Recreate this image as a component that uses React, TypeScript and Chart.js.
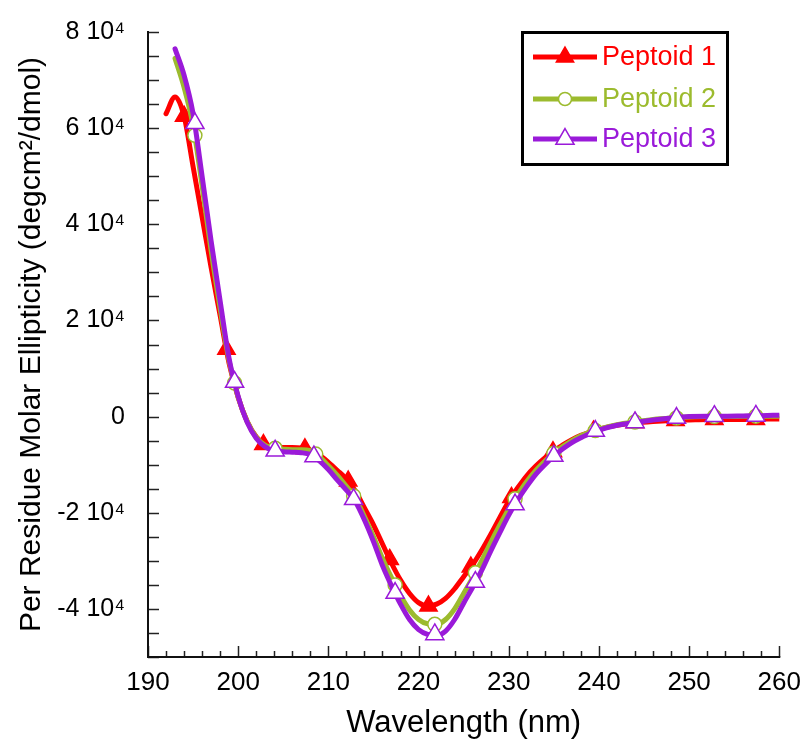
import React, { useEffect, useRef } from 'react';
import { Chart, registerables } from 'chart.js';

Chart.register(...registerables);

const FONT = '"Liberation Sans", Arial, Helvetica, sans-serif';

const RED = '#FF0000';
const GREEN = '#9CBB2E';
const PURPLE = '#9A1AD9';

const seriesNames = ['Peptoid 1', 'Peptoid 2', 'Peptoid 3'];

const wavelengths = [
  192, 193, 194, 195, 196, 197, 198, 199, 200, 201, 202, 203, 204, 205, 206, 207, 208, 209,
  210, 211, 212, 213, 214, 215, 216, 217, 218, 219, 220, 221, 222, 223, 224, 225, 226, 227,
  228, 229, 230, 231, 232, 233, 234, 235, 236, 237, 238, 239, 240, 242, 244, 246, 248, 250,
  252, 254, 256, 258, 260,
];

const peptoid1 = [
  63000, 66500, 62500, 52000, 41500, 31000, 21000, 11000, 4000, -1000, -4200, -5900, -6300, -6400, -6400, -6500, -7000, -8000,
  -9500, -11200, -13000, -15500, -19000, -22500, -26500, -30500, -34000, -36800, -38700, -39400, -39000, -37800, -35800, -33300, -30800, -27800,
  -24500, -21000, -17600, -14800, -12300, -10300, -8600, -7200, -5900, -4800, -3900, -3200, -2600, -1800, -1300, -1000, -800, -700,
  -600, -600, -600, -500, -500,
];

const peptoid2 = [
  null, 74500, 68500, 60500, 48000, 34500, 22500, 11500, 4000, -1000, -4300, -6000, -6600, -6800, -6900, -6900, -7100, -8400,
  -10200, -12200, -14500, -17000, -20800, -25000, -29500, -33500, -37200, -40200, -42200, -43100, -43200, -42200, -40000, -36800, -33500, -30000,
  -26200, -22600, -19200, -16200, -13500, -11200, -9300, -7600, -6200, -5000, -4000, -3200, -2600, -1700, -1100, -600, -300, -100,
  0, 0, 50, 100, 100,
];

const peptoid3 = [
  null, 76500, 71000, 63000, 50000, 36500, 24000, 12000, 4200, -1200, -4500, -6300, -7100, -7300, -7400, -7500, -7900, -9200,
  -11000, -13200, -15300, -17700, -21500, -26000, -31000, -35200, -39000, -42200, -44300, -45300, -45500, -44600, -42200, -38800, -35500, -32000,
  -28000, -24200, -20500, -17300, -14500, -12000, -10000, -8200, -6700, -5400, -4400, -3500, -2800, -1800, -1200, -700, -300, 0,
  100, 100, 150, 200, 300,
];

const markerWl1 = [194.0, 198.7, 202.8, 207.4, 212.2, 216.8, 221.1, 225.8, 230.3, 234.9, 239.4, 244.0, 248.5, 252.8, 257.4];
const markerVal1 = [62500, 14000, -5800, -6700, -13400, -29700, -39400, -31300, -16800, -7300, -3000, -1300, -800, -600, -600];

const markerWl2 = [195.2, 199.6, 204.1, 208.6, 212.8, 217.4, 221.8, 226.3, 230.7, 235.0, 239.6, 244.0, 248.6, 252.8, 257.4];
const markerVal2 = [58500, 7000, -6600, -7800, -16500, -35000, -43200, -32500, -17100, -7600, -2900, -1100, -300, 0, 100];

const markerWl3 = [195.2, 199.6, 204.1, 208.4, 212.8, 217.4, 221.8, 226.3, 230.7, 235.0, 239.6, 244.0, 248.6, 252.8, 257.4];
const markerVal3 = [61000, 7200, -7100, -8300, -17200, -36700, -45300, -34400, -18300, -8200, -3000, -1200, -300, 100, 150];

const xTickLabels = [190, 200, 210, 220, 230, 240, 250, 260];
const yTickLabels: Record<string, string> = {
  '80000': '8 10\u2074',
  '60000': '6 10\u2074',
  '40000': '4 10\u2074',
  '20000': '2 10\u2074',
  '0': '0',
  '-20000': '-2 10\u2074',
  '-40000': '-4 10\u2074',
};

function toPoints(xs: number[], ys: (number | null)[]) {
  const pts: { x: number; y: number }[] = [];
  xs.forEach((x, i) => {
    const y = ys[i];
    if (y !== null && y !== undefined) pts.push({ x, y });
  });
  return pts;
}

function drawMarker(ctx: CanvasRenderingContext2D, style: string, x: number, y: number, r: number, fill: string, stroke: string) {
  ctx.save();
  ctx.beginPath();
  if (style === 'triangle') {
    let rad = 0;
    ctx.moveTo(x + Math.sin(rad) * r, y - Math.cos(rad) * r);
    rad += (2 * Math.PI) / 3;
    ctx.lineTo(x + Math.sin(rad) * r, y - Math.cos(rad) * r);
    rad += (2 * Math.PI) / 3;
    ctx.lineTo(x + Math.sin(rad) * r, y - Math.cos(rad) * r);
    ctx.closePath();
  } else {
    ctx.arc(x, y, r, 0, Math.PI * 2);
  }
  ctx.fillStyle = fill;
  ctx.fill();
  ctx.lineWidth = 1.5;
  ctx.strokeStyle = stroke;
  ctx.stroke();
  ctx.restore();
}

const axesPlugin = {
  id: 'customAxes',
  beforeDatasetsDraw(chart: any) {
    const { ctx, chartArea, scales } = chart;
    const xs = scales.x;
    const ys = scales.y;
    ctx.save();
    ctx.strokeStyle = '#222';
    ctx.lineWidth = 1.5;
    ys.ticks.forEach((t: any) => {
      const y = Math.round(ys.getPixelForValue(t.value)) + 0.5;
      ctx.beginPath();
      ctx.moveTo(chartArea.left, y);
      ctx.lineTo(chartArea.left + 11, y);
      ctx.stroke();
    });
    xs.ticks.forEach((t: any) => {
      const x = Math.round(xs.getPixelForValue(t.value)) + 0.5;
      const len = t.value % 10 === 0 ? 11 : 6;
      ctx.beginPath();
      ctx.moveTo(x, chartArea.bottom);
      ctx.lineTo(x, chartArea.bottom - len);
      ctx.stroke();
    });
    ctx.lineWidth = 2;
    ctx.strokeStyle = '#111';
    ctx.beginPath();
    ctx.moveTo(chartArea.left, chartArea.top - 1);
    ctx.lineTo(chartArea.left, chartArea.bottom);
    ctx.lineTo(chartArea.right + 1, chartArea.bottom);
    ctx.stroke();
    ctx.restore();
  },
  afterDraw(chart: any) {
    const { ctx } = chart;
    ctx.save();
    ctx.lineWidth = 3;
    ctx.strokeStyle = '#000';
    ctx.strokeRect(522.5, 32.5, 205, 132);
    const rows = [
      { name: seriesNames[0], color: RED, style: 'triangle', r: 10, fill: RED, y: 57 },
      { name: seriesNames[1], color: GREEN, style: 'circle', r: 6.5, fill: '#fff', y: 99 },
      { name: seriesNames[2], color: PURPLE, style: 'triangle', r: 10.5, fill: '#fff', y: 139 },
    ];
    rows.forEach((row) => {
      ctx.beginPath();
      ctx.lineWidth = 5;
      ctx.strokeStyle = row.color;
      ctx.moveTo(533, row.y);
      ctx.lineTo(597, row.y);
      ctx.stroke();
      drawMarker(ctx, row.style, 565, row.y, row.r, row.fill, row.color);
      ctx.fillStyle = row.color;
      ctx.font = `27px ${FONT}`;
      ctx.textBaseline = 'middle';
      ctx.textAlign = 'left';
      ctx.fillText(row.name, 602, row.y + 1);
    });
    ctx.restore();
  },
};

export default function App() {
  const ref = useRef<HTMLCanvasElement>(null);

  useEffect(() => {
    if (!ref.current) return;
    const lineBase = {
      pointRadius: 0,
      borderWidth: 5,
      cubicInterpolationMode: 'monotone' as const,
      fill: false,
      borderJoinStyle: 'round' as const,
      borderCapStyle: 'round' as const,
    };
    const markerBase = {
      showLine: false,
      pointBorderWidth: 1.5,
    };
    const chart = new Chart(ref.current, {
      type: 'line',
      data: {
        datasets: [
          { ...lineBase, label: seriesNames[0], data: toPoints(wavelengths, peptoid1), borderColor: RED, order: 6 },
          {
            ...markerBase, label: seriesNames[0] + ' markers', data: toPoints(markerWl1, markerVal1),
            pointStyle: 'triangle', pointRadius: 10, pointBackgroundColor: RED, pointBorderColor: RED, borderColor: RED, order: 5,
          },
          { ...lineBase, label: seriesNames[1], data: toPoints(wavelengths, peptoid2), borderColor: GREEN, order: 4 },
          {
            ...markerBase, label: seriesNames[1] + ' markers', data: toPoints(markerWl2, markerVal2),
            pointStyle: 'circle', pointRadius: 7, pointBackgroundColor: '#fff', pointBorderColor: GREEN, borderColor: GREEN, order: 3,
          },
          { ...lineBase, label: seriesNames[2], data: toPoints(wavelengths, peptoid3), borderColor: PURPLE, order: 2 },
          {
            ...markerBase, label: seriesNames[2] + ' markers', data: toPoints(markerWl3, markerVal3),
            pointStyle: 'triangle', pointRadius: 10.5, pointBackgroundColor: '#fff', pointBorderColor: PURPLE, borderColor: PURPLE, order: 1,
          },
        ] as any,
      },
      options: {
        animation: false,
        responsive: false,
        devicePixelRatio: 1,
        layout: { padding: { left: 0, right: 17, top: 32, bottom: 0 } },
        plugins: { legend: { display: false }, tooltip: { enabled: false } },
        scales: {
          x: {
            type: 'linear',
            min: 190,
            max: 260,
            grid: { display: false },
            border: { display: false },
            ticks: {
              stepSize: 2,
              autoSkip: false,
              maxRotation: 0,
              padding: 2,
              color: '#000',
              font: { family: FONT, size: 26 },
              callback: (v: any) => (xTickLabels.includes(Number(v)) ? String(v) : ''),
            },
            title: {
              display: true,
              text: 'Wavelength (nm)',
              color: '#000',
              font: { family: FONT, size: 31 },
              padding: { top: 0, bottom: 9 },
            },
            afterFit: (s: any) => {
              s.height = 94;
            },
          },
          y: {
            type: 'linear',
            min: -50000,
            max: 80000,
            grid: { display: false },
            border: { display: false },
            ticks: {
              stepSize: 5000,
              autoSkip: false,
              padding: 15,
              color: '#000',
              font: { family: FONT, size: 25 },
              callback: (v: any) => yTickLabels[String(Math.round(Number(v)))] ?? '',
            },
            title: {
              display: true,
              text: 'Per Residue Molar Ellipticity (degcm\u00B2/dmol)',
              color: '#000',
              font: { family: FONT, size: 30 },
              padding: { top: 14, bottom: 0 },
            },
            afterFit: (s: any) => {
              s.width = 148;
            },
          },
        },
      } as any,
      plugins: [axesPlugin],
    });
    return () => chart.destroy();
  }, []);

  return (
    <div style={{ position: 'absolute', left: 0, top: 0, width: 803, height: 751, background: '#fff' }}>
      <canvas ref={ref} width={803} height={751} style={{ display: 'block' }} />
    </div>
  );
}
